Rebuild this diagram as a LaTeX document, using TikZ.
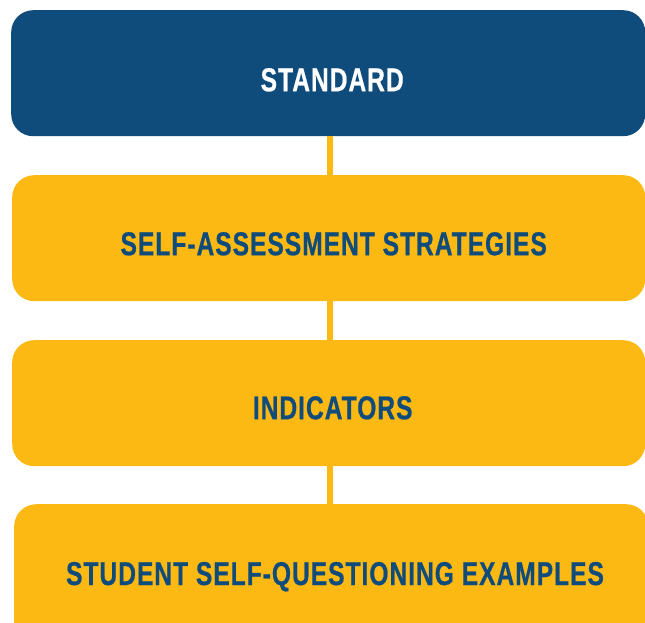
\documentclass[tikz,border=0pt]{standalone}
\usepackage{fontspec}
\newfontfamily\boxfont[FakeStretch=0.745,LetterSpace=3,FakeBold=0.6]{Liberation Sans Bold}
\definecolor{navy}{HTML}{0F4C7C}
\definecolor{gold}{HTML}{FDB913}
\begin{document}
\begin{tikzpicture}[x=1pt,y=-1pt,
  box/.style={draw=none,rounded corners=22pt,inner sep=0pt,anchor=north west},
  bluebox/.style={box,fill=navy},
  goldbox/.style={box,fill=gold},
  lbl/.style={font=\boxfont\fontsize{33}{36}\selectfont,inner sep=0pt,text height=24pt,text depth=0pt},
  link/.style={draw=gold,line width=6pt}]
\useasboundingbox (0,0) rectangle (645,623);
\clip (0,0) rectangle (645,623);
\node[bluebox,minimum width=634pt,minimum height=126pt] (b1) at (11,10) {};
\node[goldbox,minimum width=633pt,minimum height=126pt] (b2) at (12,175) {};
\node[goldbox,minimum width=633pt,minimum height=126pt] (b3) at (12,340) {};
\node[goldbox,minimum width=634pt,minimum height=160pt] (b4) at (14,504) {};
\node[lbl,text=white] (t1) at ([xshift=4pt,yshift=-6pt]b1.center) {STANDARD};
\node[lbl,text=navy] (t2) at ([xshift=5pt,yshift=-5pt]b2.center) {SELF-ASSESSMENT STRATEGIES};
\node[lbl,text=navy] (t3) at ([xshift=4pt,yshift=-4pt]b3.center) {INDICATORS};
\node[lbl,text=navy] (t4) at (335,573) {STUDENT SELF-QUESTIONING EXAMPLES};
\path[link] (b1.south -| 330,0) -- (b2.north -| 330,0);
\path[link] (b2.south -| 330,0) -- (b3.north -| 330,0);
\path[link] (b3.south -| 330,0) -- (b4.north -| 330,0);
\end{tikzpicture}
\end{document}
